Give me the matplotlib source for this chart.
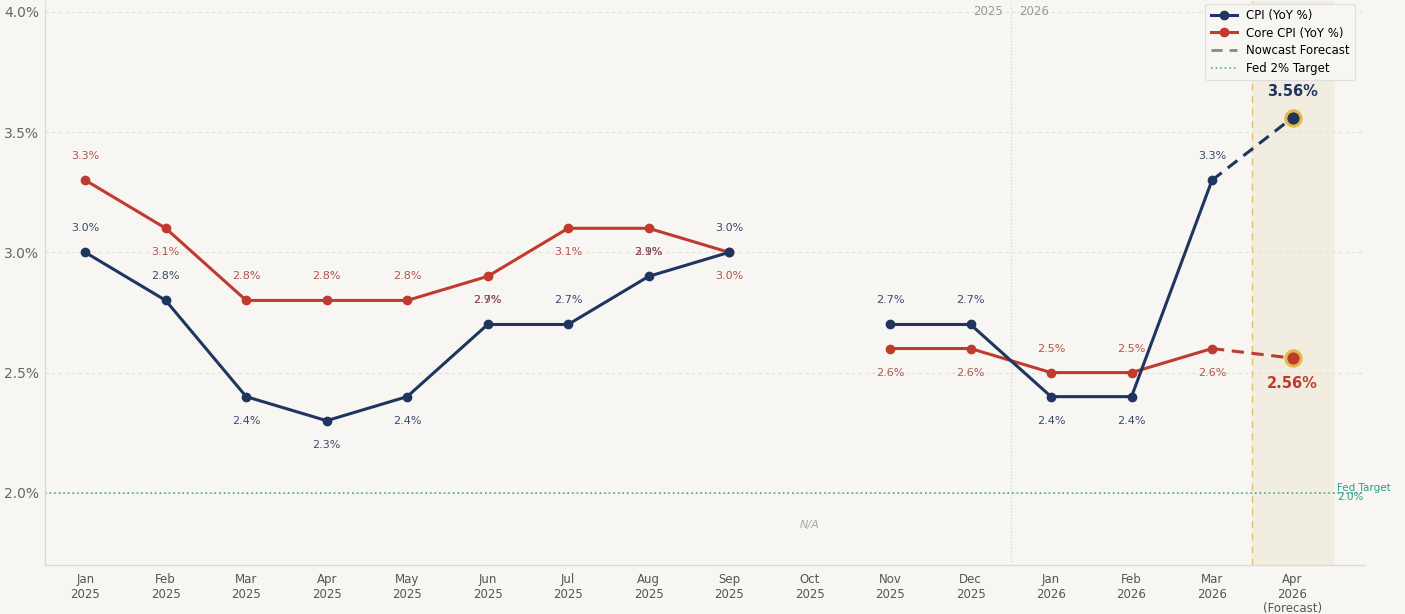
import numpy as np
import matplotlib
matplotlib.use("Agg")
import matplotlib.pyplot as plt
from matplotlib.lines import Line2D

months = ["Jan\n2025", "Feb\n2025", "Mar\n2025", "Apr\n2025", "May\n2025", "Jun\n2025",
          "Jul\n2025", "Aug\n2025", "Sep\n2025", "Oct\n2025", "Nov\n2025", "Dec\n2025",
          "Jan\n2026", "Feb\n2026", "Mar\n2026", "Apr\n2026\n(Forecast)"]
cpi = [3.0, 2.8, 2.4, 2.3, 2.4, 2.7, 2.7, 2.9, 3.0, np.nan, 2.7, 2.7, 2.4, 2.4, 3.3]
core = [3.3, 3.1, 2.8, 2.8, 2.8, 2.9, 3.1, 3.1, 3.0, np.nan, 2.6, 2.6, 2.5, 2.5, 2.6]
cpi_forecast = 3.56
core_forecast = 2.56
fed_target = 2.0
yticks = [2.0, 2.5, 3.0, 3.5, 4.0]

# label placement (style): +1 above, -1 below
cpi_lab_pos = [1, 1, -1, -1, -1, 1, 1, 1, 1, 0, 1, 1, -1, -1, 1]
core_lab_pos = [1, -1, 1, 1, 1, -1, -1, -1, -1, 0, -1, -1, 1, 1, -1]

BG = "#f8f6f2"
NAVY = "#1f3560"
RED = "#bf3b2e"
TEAL = "#2a9d8f"
GOLD = "#e3b84c"

fig = plt.figure(figsize=(14.05, 6.14), dpi=100, facecolor=BG)
ax = fig.add_axes([0.032, 0.0798, 0.9395, 0.9186], facecolor=BG)

n = len(cpi)
x = np.arange(n)
xf = n  # forecast index

ax.axvspan(xf - 0.5, xf + 0.5, color="#f1ede1", zorder=0)
ax.axvline(xf - 0.5, color=GOLD, lw=1.0, ls=(0, (5, 4)), alpha=0.8, zorder=1)
ax.axvline(11.5, color="#d5d5cc", lw=0.9, ls=":", zorder=1)
ax.text(11.4, 4.0, "2025", ha="right", va="center", fontsize=8.5, color="#999999")
ax.text(11.6, 4.0, "2026", ha="left", va="center", fontsize=8.5, color="#999999")

ax.axhline(fed_target, color=TEAL, lw=1.1, ls=(0, (1, 2)), zorder=1)
ax.text(15.55, fed_target, "Fed Target\n2.0%", ha="left", va="center", fontsize=7.5,
        color=TEAL, clip_on=False, linespacing=0.9)

ax.plot(x, cpi, color=NAVY, lw=2.2, marker="o", ms=6, zorder=4)
ax.plot(x, core, color=RED, lw=2.2, marker="o", ms=6, zorder=3)
ax.plot([x[-1], xf], [cpi[-1], cpi_forecast], color=NAVY, lw=2.2, ls=(0, (4, 2.5)), zorder=4)
ax.plot([x[-1], xf], [core[-1], core_forecast], color=RED, lw=2.2, ls=(0, (4, 2.5)), zorder=3)
ax.plot([xf], [cpi_forecast], marker="o", ms=11, color=NAVY, mec=GOLD, mew=2.2, zorder=5)
ax.plot([xf], [core_forecast], marker="o", ms=11, color=RED, mec=GOLD, mew=2.2, zorder=5)
ax.text(xf, cpi_forecast + 0.11, f"{cpi_forecast:.2f}%", ha="center", va="center",
        fontsize=10.5, fontweight="bold", color=NAVY)
ax.text(xf, core_forecast - 0.105, f"{core_forecast:.2f}%", ha="center", va="center",
        fontsize=10.5, fontweight="bold", color=RED)

off = 0.1
for i in range(n):
    if not np.isnan(cpi[i]):
        ax.text(x[i], cpi[i] + off * cpi_lab_pos[i], f"{cpi[i]:.1f}%", ha="center", va="center",
                fontsize=8, color="#3b4a6b", zorder=6)
    if not np.isnan(core[i]):
        ax.text(x[i], core[i] + off * core_lab_pos[i], f"{core[i]:.1f}%", ha="center", va="center",
                fontsize=8, color="#b0554c", zorder=6)

ax.text(9, 1.865, "N/A", ha="center", va="center", fontsize=8, style="italic", color="#aaaaaa")

ax.set_xlim(-0.5, 15.9)
ax.set_ylim(1.70, 4.045)
ax.set_xticks(np.arange(n + 1))
ax.set_xticklabels(months, fontsize=8.5, color="#555555", linespacing=1.15)
ax.set_yticks(yticks)
ax.set_yticklabels([f"{v:.1f}%" for v in yticks], fontsize=10, color="#666666")
ax.tick_params(axis="both", length=0, pad=6)
ax.tick_params(axis="y", pad=4)
ax.grid(axis="y", color="#e2e0da", lw=0.8, ls=(0, (3, 3)))
ax.set_axisbelow(True)
for s in ["top", "right"]:
    ax.spines[s].set_visible(False)
for s in ["left", "bottom"]:
    ax.spines[s].set_color("#dddad3")
    ax.spines[s].set_linewidth(0.9)

handles = [
    Line2D([], [], color=NAVY, lw=2.2, marker="o", ms=6, label="CPI (YoY %)"),
    Line2D([], [], color=RED, lw=2.2, marker="o", ms=6, label="Core CPI (YoY %)"),
    Line2D([], [], color="#888888", lw=2, ls=(0, (4, 2.5)), label="Nowcast Forecast"),
    Line2D([], [], color=TEAL, lw=1.1, ls=(0, (1, 2)), label="Fed 2% Target"),
]
leg = ax.legend(handles=handles, loc="upper right", bbox_to_anchor=(0.997, 1.006), fontsize=8.5,
                frameon=True, facecolor=BG, edgecolor="#dddddd", framealpha=1,
                borderpad=0.45, labelspacing=0.4, handlelength=2.2)
leg.get_frame().set_linewidth(0.8)

fig.savefig("out.png", dpi=100, facecolor=BG)
